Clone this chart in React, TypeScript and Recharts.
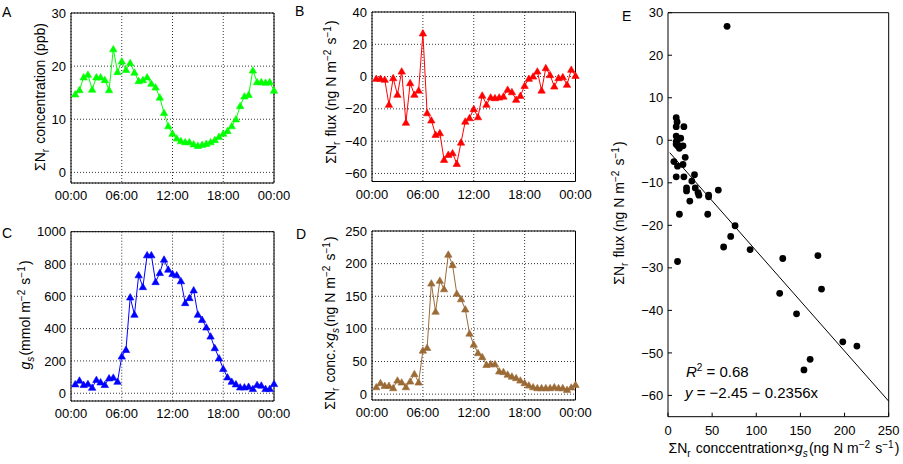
import React from 'react';
import {
  CartesianGrid,
  Line,
  LineChart,
  ReferenceArea,
  ReferenceLine,
  Scatter,
  ScatterChart,
  XAxis,
  YAxis,
} from 'recharts';

// half-hour sampling times (h)
const hours = [
  0.5, 1, 1.5, 2, 2.5, 3, 3.5, 4, 4.5, 5, 5.5, 6, 6.5, 7, 7.5, 8, 8.5, 9, 9.5, 10, 10.5, 11, 11.5, 12,
  12.5, 13, 13.5, 14, 14.5, 15, 15.5, 16, 16.5, 17, 17.5, 18, 18.5, 19, 19.5, 20, 20.5, 21, 21.5, 22,
  22.5, 23, 23.5, 24,
];
const timeTicks = [0, 6, 12, 18, 24];

// A: concentration (ppb)
const concentration = [
  14.7, 15.5, 17.9, 18.4, 15.6, 17.9, 17.9, 17.4, 15.5, 23.2, 18.9, 20.9, 19.3, 20.6, 18.8, 17.2,
  17.4, 17.9, 16.7, 16.0, 14.1, 11.2, 8.7, 7.3, 6.4, 5.9, 5.7, 5.7, 5.3, 5.0, 5.2, 5.4, 5.7, 6.1,
  6.7, 7.3, 7.8, 8.7, 10.0, 12.5, 14.3, 14.6, 19.2, 17.0, 17.0, 16.9, 17.0, 15.4,
];
// B: flux (ng N m-2 s-1)
const flux = [
  -1.3, -1.3, -1.9, -17.4, -0.9, -11.2, 3.2, -28.5, -4.0, -11.2, -8.6, 26.8, -22.6, -27.1, -36.0,
  -35.0, -51.5, -48.4, -47.4, -54.0, -40.8, -27.8, -25.7, -20.1, -25.1, -11.7, -17.4, -12.9, -13.3,
  -12.9, -12.3, -8.1, -9.6, -14.3, -11.9, -5.7, -1.3, 0.1, 3.2, -8.6, 5.3, 1.0, -6.1, -0.9, -0.3,
  -5.0, 4.3, 0.5,
];
// C: stomatal conductance (mmol m-2 s-1)
const gs = [
  56, 79, 52, 58, 35, 83, 68, 52, 93, 97, 72, 228, 269, 594, 487, 731, 658, 855, 855, 689, 745, 828,
  766, 739, 731, 694, 559, 590, 638, 487, 455, 408, 352, 280, 217, 151, 99, 72, 56, 37, 37, 41, 27,
  52, 48, 27, 27, 58,
];
// D: concentration x gs (ng N m-2 s-1)
const concGs = [
  10.8, 17, 12.9, 12.9, 9.3, 21, 18, 10.8, 19.5, 30.9, 18, 66.9, 71, 169.8, 126.5, 173.9, 161, 214,
  198, 154, 145.6, 130, 93, 76, 63, 57, 45, 46, 46, 35, 34, 30, 27, 24.7, 21, 17, 13.4, 10.8, 9.3,
  9.3, 9.3, 9.3, 10.8, 9.3, 9.3, 6.7, 10.3, 14.4,
];
// E: linear fit
const fitIntercept = -2.45;
const fitSlope = -0.2356;
const fitRange = [2, 250];

const FONT = '"Liberation Sans", Arial, Helvetica, sans-serif';
const tickStyle = { fill: '#000', fontSize: 13 };
const minus = (v: number) => String(v).replace('-', '\u2212');
const hhmm = (h: number) => `${String(h % 24).padStart(2, '0')}:00`;
const blank = () => '';

const series = (vals: number[]) => hours.map((t, i) => ({ t, v: vals[i] }));

const Tri = ({ cx, cy, color }: any) => (
  <polygon
    points={`${cx},${cy - 3.7} ${cx - 3.7},${cy + 2.7} ${cx + 3.7},${cy + 2.7}`}
    fill={color}
    stroke={color}
    strokeWidth={0.6}
  />
);

const Sub = ({ children, italic }: any) => (
  <>
    <tspan dy={3.5} fontSize={10} fontStyle={italic ? 'italic' : 'normal'}>
      {children}
    </tspan>
    <tspan dy={-3.5}>{'\u200a'}</tspan>
  </>
);
const Sup = ({ children }: any) => (
  <>
    <tspan dy={-5} fontSize={10}>
      {children}
    </tspan>
    <tspan dy={5}>{'\u200a'}</tspan>
  </>
);

const VTitle = ({ px, py, children }: any) => (
  <text
    x={0}
    y={0}
    transform={`translate(${px},${py}) rotate(-90)`}
    textAnchor='middle'
    fontSize={14}
    fill='#000'
    fontFamily={FONT}
  >
    {children}
  </text>
);

const Units = () => (
  <>
    <tspan>(ng N m</tspan>
    <Sup>{'\u22122'}</Sup>
    <tspan> s</tspan>
    <Sup>{'\u22121'}</Sup>
    <tspan>)</tspan>
  </>
);

const TitleA = () => (
  <VTitle px={45} py={97}>
    ΣN<Sub>r</Sub>
    <tspan> concentration (ppb)</tspan>
  </VTitle>
);
const TitleB = () => (
  <VTitle px={36} py={92}>
    ΣN<Sub>r</Sub>
    <tspan> flux </tspan>
    <Units />
  </VTitle>
);
const TitleC = () => (
  <VTitle px={30} py={90}>
    <tspan fontStyle='italic'>g</tspan>
    <Sub italic>s</Sub>
    <tspan>(mmol m</tspan>
    <Sup>{'\u22122'}</Sup>
    <tspan> s</tspan>
    <Sup>{'\u22121'}</Sup>
    <tspan>)</tspan>
  </VTitle>
);
const TitleD = () => (
  <VTitle px={35} py={98}>
    ΣN<Sub>r</Sub>
    <tspan> conc.×</tspan>
    <tspan fontStyle='italic'>g</tspan>
    <Sub italic>s</Sub>
    <Units />
  </VTitle>
);
const TitleEy = () => (
  <VTitle px={24} py={213}>
    ΣN<Sub>r</Sub>
    <tspan> flux </tspan>
    <Units />
  </VTitle>
);
const TitleEx = () => (
  <text x={184} y={453} textAnchor='middle' fontSize={14} fill='#000' fontFamily={FONT}>
    ΣN<Sub>r</Sub>
    <tspan> conccentration×</tspan>
    <tspan fontStyle='italic'>g</tspan>
    <Sub italic>s</Sub>
    <Units />
  </text>
);
const FitNote = () => (
  <g fontFamily={FONT} fontSize={15} fill='#000'>
    <text x={86} y={377}>
      <tspan fontStyle='italic'>R</tspan>
      <tspan dy={-6} fontSize={10}>
        2
      </tspan>
      <tspan dy={6}> = 0.68</tspan>
    </text>
    <text x={85} y={398}>
      <tspan fontStyle='italic'>y</tspan>
      <tspan> = {minus(fitIntercept)} {'\u2212'} {Math.abs(fitSlope)}x</tspan>
    </text>
  </g>
);

type PanelProps = {
  vals: number[];
  color: string;
  yDomain: [number, number];
  yTicks: number[];
  left: number;
  top: number;
  width: number;
  height: number;
  marginTop: number;
  marginRight: number;
  yWidth: number;
  xHeight: number;
  title: React.ReactElement;
};

const TimePanel = (p: PanelProps) => (
  <div style={{ position: 'absolute', left: p.left, top: p.top }}>
    <LineChart
      width={p.width}
      height={p.height}
      data={series(p.vals)}
      margin={{ top: p.marginTop, right: p.marginRight, bottom: 0, left: 0 }}
    >
      <CartesianGrid stroke='#000' strokeDasharray='1 2' strokeWidth={0.8} />
      <XAxis
        dataKey='t'
        type='number'
        domain={[0, 24]}
        ticks={timeTicks}
        interval={0}
        tickFormatter={hhmm}
        tick={tickStyle}
        tickLine={false}
        axisLine={false}
        height={p.xHeight}
      />
      <YAxis
        type='number'
        domain={p.yDomain}
        ticks={p.yTicks}
        interval={0}
        tickFormatter={minus}
        tick={tickStyle}
        tickLine={false}
        axisLine={false}
        tickSize={3}
        tickMargin={2}
        width={p.yWidth}
        label={p.title}
      />
      <ReferenceArea
        x1={0}
        x2={24}
        y1={p.yDomain[0]}
        y2={p.yDomain[1]}
        fill='none'
        fillOpacity={0}
        stroke='#000'
        strokeWidth={1}
      />
      <Line
        dataKey='v'
        type='linear'
        stroke={p.color}
        strokeWidth={1}
        isAnimationActive={false}
        dot={(d: any) => <Tri key={`d${d.index}`} cx={d.cx} cy={d.cy} color={p.color} />}
        activeDot={false}
      />
    </LineChart>
  </div>
);

const letter = (text: string, left: number, top: number) => (
  <div
    style={{
      position: 'absolute',
      left,
      top,
      fontSize: 14,
      lineHeight: '14px',
      fontFamily: FONT,
      color: '#000',
    }}
  >
    {text}
  </div>
);

const scatterPoints = concGs.map((x, i) => ({ x, y: flux[i] }));
const eXTicks = [0, 50, 100, 150, 200, 250];
const eYTicks = [-60, -50, -40, -30, -20, -10, 0, 10, 20, 30];

export default function App() {
  return (
    <div
      style={{
        position: 'absolute',
        left: 0,
        top: 0,
        width: 903,
        height: 464,
        background: '#fff',
        fontFamily: FONT,
      }}
    >
      <TimePanel
        vals={concentration}
        color='#00ff00'
        yDomain={[-2, 30]}
        yTicks={[0, 10, 20, 30]}
        left={0}
        top={0}
        width={295}
        height={225}
        marginTop={13}
        marginRight={21}
        yWidth={71}
        xHeight={42}
        title={<TitleA />}
      />
      <TimePanel
        vals={flux}
        color='#ff0000'
        yDomain={[-65, 40]}
        yTicks={[-60, -40, -20, 0, 20, 40]}
        left={300}
        top={0}
        width={300}
        height={225}
        marginTop={12}
        marginRight={24.5}
        yWidth={72}
        xHeight={43.5}
        title={<TitleB />}
      />
      <TimePanel
        vals={gs}
        color='#0000ff'
        yDomain={[-48, 1000]}
        yTicks={[0, 200, 400, 600, 800, 1000]}
        left={0}
        top={225}
        width={295}
        height={239}
        marginTop={6.7}
        marginRight={21}
        yWidth={71}
        xHeight={63}
        title={<TitleC />}
      />
      <TimePanel
        vals={concGs}
        color='#9b6a35'
        yDomain={[-9, 250]}
        yTicks={[0, 50, 100, 150, 200, 250]}
        left={300}
        top={225}
        width={300}
        height={239}
        marginTop={6}
        marginRight={24.5}
        yWidth={72}
        xHeight={64}
        title={<TitleD />}
      />
      <div style={{ position: 'absolute', left: 600, top: 0 }}>
        <ScatterChart width={303} height={464} margin={{ top: 11.7, right: 13.3, bottom: 0, left: 0 }}>
          <XAxis
            dataKey='x'
            type='number'
            domain={[0, 250]}
            ticks={eXTicks}
            interval={0}
            tick={tickStyle}
            tickSize={-4}
            tickMargin={12.6}
            tickLine={{ stroke: '#000' }}
            axisLine={false}
            height={47.3}
            label={<TitleEx />}
          />
          <XAxis
            xAxisId='top'
            orientation='top'
            type='number'
            domain={[0, 250]}
            ticks={eXTicks}
            interval={0}
            tickFormatter={blank}
            tickSize={-4}
            tickLine={{ stroke: '#000' }}
            axisLine={false}
            height={1}
          />
          <YAxis
            dataKey='y'
            type='number'
            domain={[-65, 30]}
            ticks={eYTicks}
            interval={0}
            tickFormatter={minus}
            tick={tickStyle}
            tickSize={-4}
            tickMargin={8.7}
            tickLine={{ stroke: '#000' }}
            axisLine={false}
            width={68}
            label={<TitleEy />}
          />
          <YAxis
            yAxisId='right'
            orientation='right'
            type='number'
            domain={[-65, 30]}
            ticks={eYTicks}
            interval={0}
            tickFormatter={blank}
            tickSize={-4}
            tickLine={{ stroke: '#000' }}
            axisLine={false}
            width={1}
          />
          <ReferenceArea
            x1={0}
            x2={250}
            y1={-65}
            y2={30}
            fill='none'
            fillOpacity={0}
            stroke='#000'
            strokeWidth={1}
          />
          <ReferenceLine
            segment={[
              { x: fitRange[0], y: fitIntercept + fitSlope * fitRange[0] },
              { x: fitRange[1], y: fitIntercept + fitSlope * fitRange[1] },
            ]}
            stroke='#000'
            strokeWidth={1}
            label={<FitNote />}
          />
          <Scatter
            data={scatterPoints}
            isAnimationActive={false}
            shape={(d: any) => <circle cx={d.cx} cy={d.cy} r={3.4} fill='#000' />}
          />
        </ScatterChart>
      </div>
      {letter('A', 2, 5)}
      {letter('B', 295, 4)}
      {letter('C', 2, 226)}
      {letter('D', 296, 227)}
      {letter('E', 622, 9)}
    </div>
  );
}
